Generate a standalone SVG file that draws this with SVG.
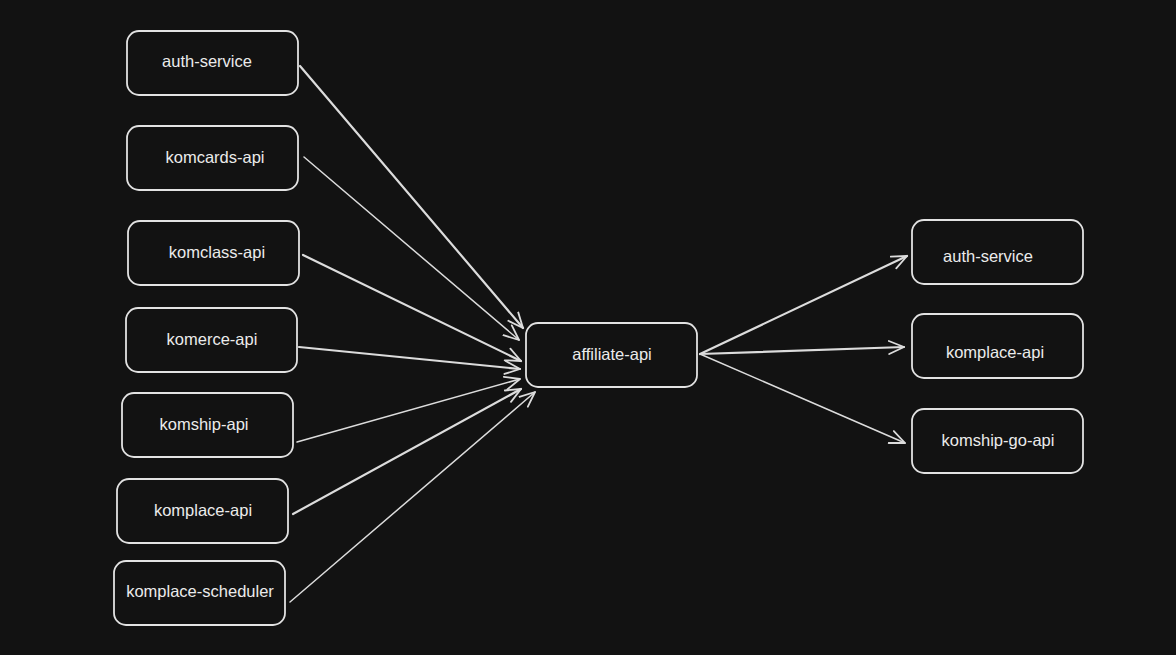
<svg xmlns="http://www.w3.org/2000/svg" width="1176" height="655" viewBox="0 0 1176 655">
<defs>
<style>
.box{fill:#121212;stroke:#e2e2e2;stroke-width:1.8}
.lbl{fill:#ebebeb;font-family:"Liberation Sans","Noto Sans",sans-serif;font-size:16.5px;text-anchor:middle;dominant-baseline:central}
.e{fill:none;stroke:#dcdcdc;stroke-linecap:round}
.t{stroke-width:2.2}
.n{stroke-width:1.5}
</style>
<marker id="ah" viewBox="-16 -8 18 16" refX="0" refY="0" markerWidth="18" markerHeight="16" markerUnits="userSpaceOnUse" orient="auto">
<path d="M-15,-6.5 L0,0 L-15,6.5" fill="none" stroke="#dcdcdc" stroke-width="1.8" stroke-linecap="round" stroke-linejoin="round"/>
</marker>
</defs>
<rect width="1176" height="655" fill="#121212"/>
<g id="connectors">
<line class="e t" x1="300" y1="66" x2="523" y2="328" marker-end="url(#ah)"/>
<line class="e n" x1="304" y1="157" x2="519" y2="340" marker-end="url(#ah)"/>
<line class="e t" x1="303" y1="255" x2="521" y2="361" marker-end="url(#ah)"/>
<line class="e t" x1="299" y1="347" x2="520" y2="369" marker-end="url(#ah)"/>
<line class="e n" x1="297" y1="442" x2="520" y2="379" marker-end="url(#ah)"/>
<line class="e t" x1="293" y1="514" x2="521" y2="389" marker-end="url(#ah)"/>
<line class="e n" x1="290" y1="602" x2="535" y2="392" marker-end="url(#ah)"/>
<line class="e t" x1="700" y1="354" x2="907" y2="256" marker-end="url(#ah)"/>
<line class="e t" x1="700" y1="354" x2="904" y2="347" marker-end="url(#ah)"/>
<line class="e n" x1="700" y1="354" x2="905" y2="443" marker-end="url(#ah)"/>
</g>
<g id="src-auth-service"><rect class="box" x="127" y="31" width="171" height="64" rx="12"/><text class="lbl" x="207" y="61">auth-service</text></g>
<g id="src-komcards-api"><rect class="box" x="127" y="126" width="171" height="64" rx="12"/><text class="lbl" x="215" y="157">komcards-api</text></g>
<g id="src-komclass-api"><rect class="box" x="128" y="221" width="171" height="64" rx="12"/><text class="lbl" x="217" y="252">komclass-api</text></g>
<g id="src-komerce-api"><rect class="box" x="126" y="308" width="171" height="64" rx="12"/><text class="lbl" x="212" y="339">komerce-api</text></g>
<g id="src-komship-api"><rect class="box" x="122" y="393" width="171" height="64" rx="12"/><text class="lbl" x="204" y="424">komship-api</text></g>
<g id="src-komplace-api"><rect class="box" x="117" y="479" width="171" height="64" rx="12"/><text class="lbl" x="203" y="510">komplace-api</text></g>
<g id="src-komplace-scheduler"><rect class="box" x="114" y="561" width="171" height="64" rx="12"/><text class="lbl" x="200" y="591">komplace-scheduler</text></g>
<g id="affiliate-api"><rect class="box" x="526" y="323" width="171" height="64" rx="12"/><text class="lbl" x="612" y="354">affiliate-api</text></g>
<g id="dst-auth-service"><rect class="box" x="912" y="220" width="171" height="64" rx="12"/><text class="lbl" x="988" y="256">auth-service</text></g>
<g id="dst-komplace-api"><rect class="box" x="912" y="314" width="171" height="64" rx="12"/><text class="lbl" x="995" y="352">komplace-api</text></g>
<g id="dst-komship-go-api"><rect class="box" x="912" y="409" width="171" height="64" rx="12"/><text class="lbl" x="998" y="440">komship-go-api</text></g>
</svg>
